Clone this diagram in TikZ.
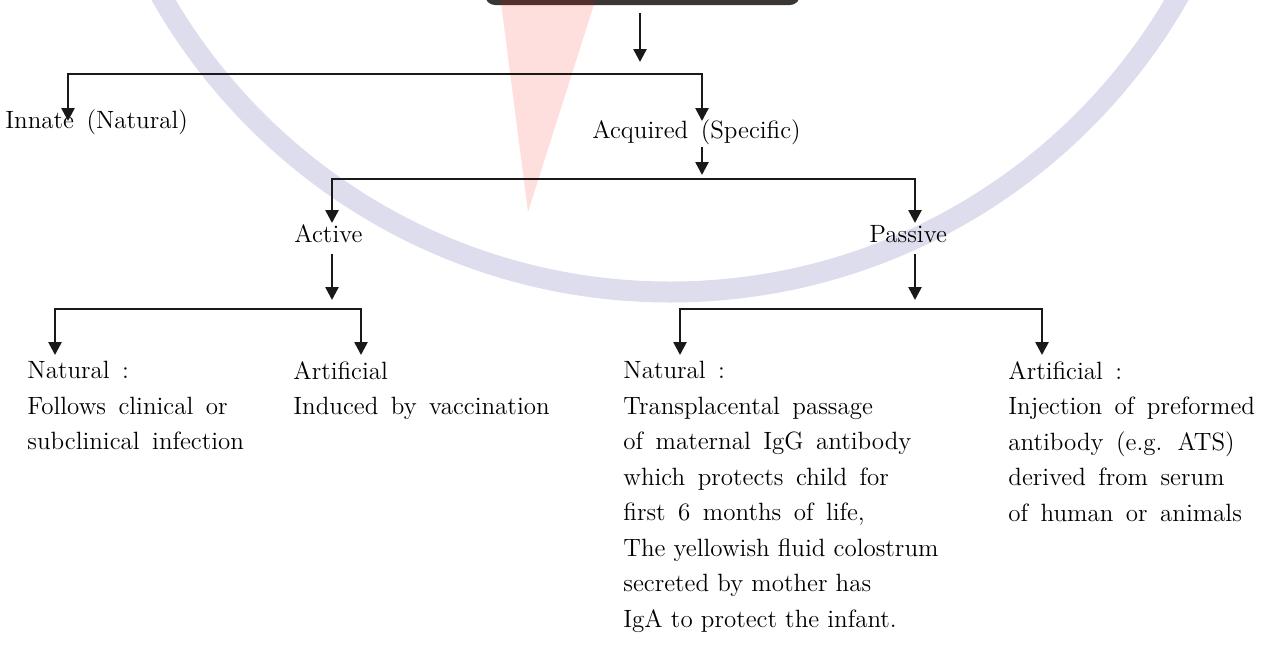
\documentclass[tikz,border=0pt]{standalone}
\usepackage{tikz}
\usetikzlibrary{positioning}
\usetikzlibrary{arrows.meta}

\definecolor{boxgray}{RGB}{58,54,52}
\definecolor{wmblue}{RGB}{221,221,238}
\newcommand{\labelfont}{\fontsize{12.5}{17.75}\selectfont\spaceskip 0.5em plus 0.1em minus 0.1em\relax}
\newcommand{\tightline}[1]{{\spaceskip 0pt\relax #1}}

\begin{document}
\begin{tikzpicture}
		[x=0.5pt, y=-0.5pt,
		 label/.style={inner sep=0pt, anchor=base west, align=left, font=\labelfont},
		 block/.style={label, anchor=north west},
		 arr/.style={line width=1.3pt, draw=black!90, -{Triangle[length=6.5pt, width=6.5pt]}},
		 rootbox/.style={fill=boxgray, rounded corners=5pt, minimum width=157.5pt, minimum height=20pt}]
		\useasboundingbox (0,0) rectangle (1270,644);
		\clip (0,0) rectangle (1270,644);

		% watermark
		\draw[wmblue, line width=10.5pt] (670,-293) circle[radius=585];
		\node[rootbox] (root) at (642.5,-15) {};
		\fill[red, opacity=0.13] (500,-5) -- (597,-5) -- (528,212) -- cycle;

		\node[label] (innate) at (5,128) {Innate (Natural)};
		\node[label] (acquired) at (592,138) {Acquired (Specific)};
		\node[label] (active) at (294,242) {Active};
		\node[label] (passive) at (869,242) {Passive};
		\node[block] (actnat) at (27,361) {Natural :\\Follows clinical or\\subclinical infection};
		\node[block] (actart) at (293,361) {Artificial\\Induced by vaccination};
		\node[block] (pasnat) at (623,361) {Natural :\\Transplacental passage\\of maternal IgG antibody\\which protects child for\\first 6 months of life,\\\tightline{The yellowish fluid colostrum}\\\tightline{secreted by mother has}\\\tightline{IgA to protect the infant.}};
		\node[block] (pasart) at (1008,361) {Artificial :\\Injection of preformed\\antibody (e.g. ATS)\\derived from serum\\of human or animals};

		% junctions and arrow tips
		\coordinate (c1) at (640,74);
		\coordinate (c2) at (702,179);
		\coordinate (c3) at (332,309);
		\coordinate (c4) at (915,309);
		\coordinate (innatetip) at (68,121);
		\coordinate (acqtip) at (702,121);
		\coordinate (acttip) at (332,223);
		\coordinate (pastip) at (915,223);
		\coordinate (anattip) at (55,355);
		\coordinate (aarttip) at (361,355);
		\coordinate (pnattip) at (680,355);
		\coordinate (parttip) at (1042,355);

		\draw[arr] ([yshift=-4pt]root.south -| c1) to ([yshift=6pt]c1);
		\draw[arr] (c1) -| (innatetip);
		\draw[arr] (c1) -| (acqtip);
		\draw[arr] ([yshift=-1pt]acquired.south -| c2) to ([yshift=2pt]c2);
		\draw[arr] (c2) -| (acttip);
		\draw[arr] (c2) -| (pastip);
		\draw[arr] ([yshift=-5.5pt]active.south -| c3) to ([yshift=4.5pt]c3);
		\draw[arr] (c3) -| (anattip);
		\draw[arr] (c3) -| (aarttip);
		\draw[arr] ([yshift=-5.5pt]passive.south -| c4) to ([yshift=4.5pt]c4);
		\draw[arr] (c4) -| (pnattip);
		\draw[arr] (c4) -| (parttip);
	\end{tikzpicture}
\end{document}
